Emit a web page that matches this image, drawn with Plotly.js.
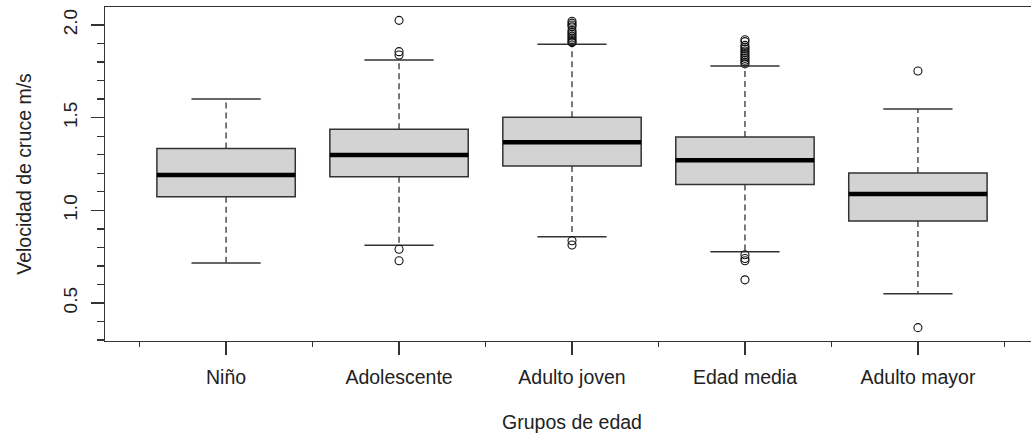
<!DOCTYPE html>
<html><head><meta charset="utf-8">
<script src="https://cdn.plot.ly/plotly-3.0.1.min.js"></script>
<style>html,body{margin:0;padding:0;overflow:hidden;background:#fff}</style>
</head><body><div id="chart"></div>
<script>
const categories = ["Niño", "Adolescente", "Adulto joven", "Edad media", "Adulto mayor"];
const positions = [1, 2, 3, 4, 5];
const lowerWhisker = [0.716, 0.811, 0.858, 0.777, 0.550];
const q1 = [1.073, 1.181, 1.239, 1.140, 0.942];
const median = [1.190, 1.298, 1.367, 1.270, 1.088];
const q3 = [1.333, 1.437, 1.502, 1.396, 1.201];
const upperWhisker = [1.600, 1.811, 1.896, 1.779, 1.547];
const outNino = [];
const outAdolescente = [2.025, 1.856, 1.838, 0.790, 0.728];
const outAdultoJoven = [2.02, 2.01, 2.00, 1.99, 1.97, 1.96, 1.95, 1.94, 1.93, 1.92, 1.91, 1.905, 0.836, 0.813];
const outEdadMedia = [1.92, 1.91, 1.89, 1.88, 1.87, 1.86, 1.85, 1.84, 1.83, 1.82, 1.81, 1.80, 1.79, 0.760, 0.740, 0.728, 0.625];
const outAdultoMayor = [1.752, 0.367];
const yTicks = [0.5, 1.0, 1.5, 2.0];
const yTickText = ["0.5", "1.0", "1.5", "2.0"];

const outliers = [outNino, outAdolescente, outAdultoJoven, outEdadMedia, outAdultoMayor];
const lineCol = '#333333';
const boxW = 0.8, capW = 0.4;

const boxTrace = {
  type: 'box', x: positions, q1: q1, median: median, q3: q3,
  lowerfence: q1, upperfence: q3, width: boxW,
  fillcolor: '#d3d3d3', line: {color: lineCol, width: 1.5},
  whiskerwidth: 0, boxpoints: false, hoverinfo: 'skip', showlegend: false
};

const wx = [], wy = [], cx = [], cy = [], mx = [], my = [], ox = [], oy = [];
positions.forEach((p, i) => {
  wx.push(p, p, null, p, p, null);
  wy.push(q3[i], upperWhisker[i], null, q1[i], lowerWhisker[i], null);
  cx.push(p - capW / 2, p + capW / 2, null, p - capW / 2, p + capW / 2, null);
  cy.push(upperWhisker[i], upperWhisker[i], null, lowerWhisker[i], lowerWhisker[i], null);
  mx.push(p - boxW / 2, p + boxW / 2, null);
  my.push(median[i], median[i], null);
  outliers[i].forEach(v => { ox.push(p); oy.push(v); });
});

const traces = [
  boxTrace,
  {type: 'scatter', mode: 'lines', x: wx, y: wy, line: {color: lineCol, width: 1.3, dash: '6px,4px'}, hoverinfo: 'skip', showlegend: false},
  {type: 'scatter', mode: 'lines', x: cx, y: cy, line: {color: lineCol, width: 1.5}, hoverinfo: 'skip', showlegend: false},
  {type: 'scatter', mode: 'lines', x: mx, y: my, line: {color: '#000000', width: 4.5}, hoverinfo: 'skip', showlegend: false},
  {type: 'scatter', mode: 'markers', x: ox, y: oy, marker: {symbol: 'circle-open', size: 8, color: '#111111', line: {width: 1.1}}, hoverinfo: 'skip', showlegend: false}
];

const minorX = positions.map(p => p - 0.5).concat([positions[positions.length - 1] + 0.5]);
const font = {family: 'Liberation Sans, Arial, sans-serif', size: 19, color: '#222222'};

const layout = {
  width: 1045, height: 440,
  margin: {l: 105, r: 6, t: 7, b: 99},
  paper_bgcolor: '#ffffff', plot_bgcolor: '#ffffff',
  font: font, showlegend: false,
  xaxis: {
    range: [0.3, 5.7], tickmode: 'array', tickvals: positions, ticktext: categories,
    ticks: 'outside', ticklen: 13, tickwidth: 1.3, tickcolor: lineCol,
    showline: true, linecolor: lineCol, linewidth: 1.3, mirror: true,
    showgrid: false, zeroline: false, ticklabelstandoff: 5,
    tickfont: {size: 19.5},
    minor: {tickmode: 'array', tickvals: minorX, ticks: 'outside', ticklen: 5, tickwidth: 1.3, tickcolor: lineCol, showgrid: false},
    title: {text: 'Grupos de edad', font: {size: 19.5}, standoff: 28}
  },
  yaxis: {
    range: [0.295, 2.097], tickmode: 'array', tickvals: yTicks, ticktext: yTickText,
    tickangle: -90, ticks: 'outside', ticklen: 13, tickwidth: 1.3, tickcolor: lineCol,
    showline: true, linecolor: lineCol, linewidth: 1.3, mirror: true,
    showgrid: false, zeroline: false, ticklabelstandoff: 6,
    tickfont: {size: 19},
    minor: {tickmode: 'linear', tick0: 0, dtick: 0.1, ticks: 'outside', ticklen: 7, tickwidth: 1.3, tickcolor: lineCol, showgrid: false},
    title: {text: 'Velocidad de cruce m/s', font: {size: 19.5}, standoff: 23}
  }
};

Plotly.newPlot('chart', traces, layout, {displayModeBar: false, staticPlot: true});
</script>
</body></html>
